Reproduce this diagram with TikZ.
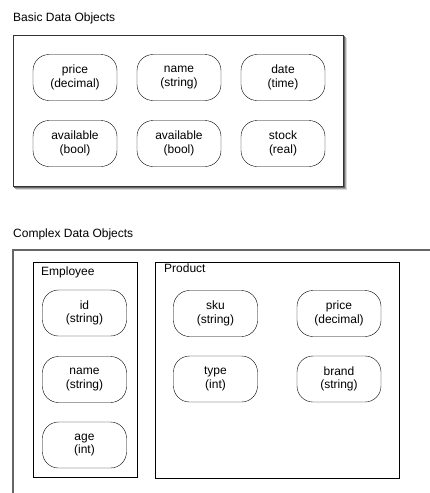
\documentclass[tikz,border=0pt]{standalone}
\usepackage{fontspec}
\setmainfont{Liberation Sans}

\tikzset{
	dataobj/.style={draw, rounded corners=16pt, minimum width=84pt, minimum height=46pt,
		align=center, inner sep=0pt, font=\fontsize{12}{13.5}\selectfont},
	grouplabel/.style={anchor=base west, inner sep=0pt, font=\fontsize{12}{13.5}\selectfont},
	groupbox/.style={draw, line width=0.8pt}
}

\begin{document}
\begin{tikzpicture}[x=1pt, y=-1pt]
	\useasboundingbox (0, 0) rectangle (429, 493);
	% basic data objects
	\node[grouplabel] (basictitle) at (13, 21) {Basic Data Objects};
	\fill[black!15] (16, 38) rectangle (347, 190);
	\fill[black!35] (15, 37) rectangle (346, 189);
	\fill[black!60] (14, 36) rectangle (345, 188);
	\draw[draw=black!80, line width=0.9pt, fill=white] (13, 35) rectangle (343, 186);
	\node[dataobj] (bprice) at (75, 77.5) {price\\(decimal)};
	\node[dataobj] (bname) at (179, 77.5) {name\\(string)};
	\node[dataobj] (bdate) at (283, 77.5) {date\\(time)};
	\node[dataobj] (bavail) at (75, 143.5) {available\\(bool)};
	\node[dataobj] (bavailtwo) at (179, 143.5) {available\\(bool)};
	\node[dataobj] (bstock) at (283, 143.5) {stock\\(real)};
	% complex data objects
	\node[grouplabel] (complextitle) at (13, 237) {Complex Data Objects};
	\draw[draw=black!60, line width=1.6pt] (13, 495) -- (13, 250) -- (431, 250);
	% employee
	\draw[groupbox] (33, 262) rectangle (137, 477);
	\node[grouplabel] (employee) at (41, 275) {Employee};
	\node[dataobj] (eid) at (84.5, 313) {id\\(string)};
	\node[dataobj] (ename) at (84.5, 379.5) {name\\(string)};
	\node[dataobj] (eage) at (84.5, 445) {age\\(int)};
	% product
	\draw[groupbox] (155, 262) rectangle (399, 478);
	\node[grouplabel] (product) at (164, 272) {Product};
	\node[dataobj] (psku) at (215.5, 313.5) {sku\\(string)};
	\node[dataobj] (pprice) at (339, 313.5) {price\\(decimal)};
	\node[dataobj] (ptype) at (215.5, 379) {type\\(int)};
	\node[dataobj] (pbrand) at (339, 379) {brand\\(string)};
\end{tikzpicture}
\end{document}
